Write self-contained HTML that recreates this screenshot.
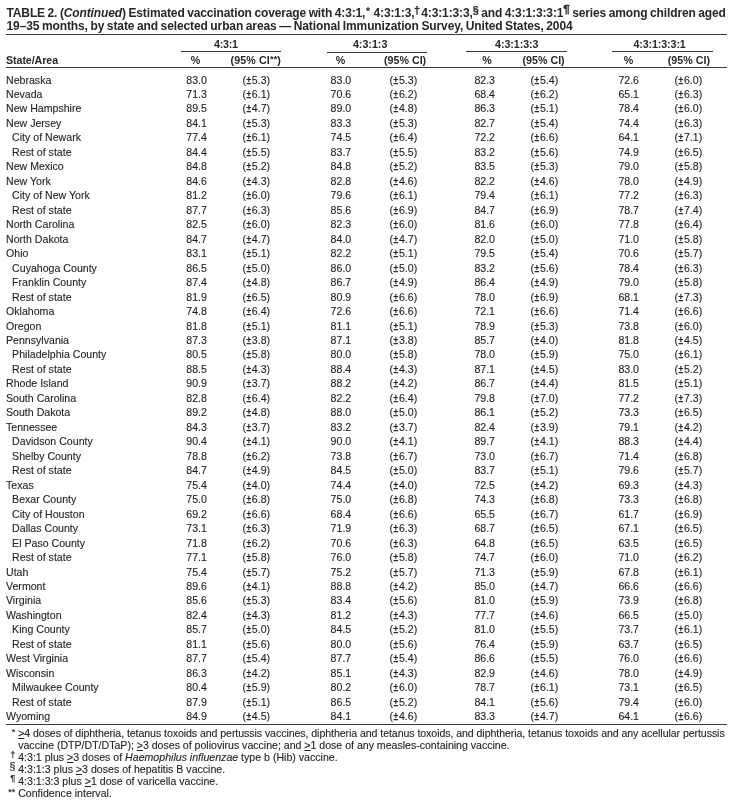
<!DOCTYPE html>
<html lang="en"><head><meta charset="utf-8"><title>TABLE 2. (Continued) Estimated vaccination coverage</title>
<style>
html,body{margin:0;padding:0;background:#fff;}
body{width:734px;height:810px;position:relative;overflow:hidden;font-family:"Liberation Sans",sans-serif;color:#231f20;font-size:10.6px;}
table,caption,thead,tbody,tr,th,td{display:block;margin:0;padding:0;border:0;font-weight:normal;text-align:left;}
table,caption,thead,tbody,.fn{position:absolute;left:0;top:0;width:734px;height:0;}
tr,.fn p{position:absolute;left:0;width:734px;height:20px;margin:0;}
.t{position:absolute;top:0;white-space:nowrap;line-height:20px;height:20px;-webkit-text-stroke:0.12px currentColor;}
thead .t{font-size:10.7px;}
.b{font-weight:bold;color:#2a2627;-webkit-text-stroke:0;}
.r{position:absolute;background:#3b3638;}
sup.s1{font-size:0.9em;line-height:0;vertical-align:0.24em;-webkit-text-stroke:0.25px currentColor;}
sup.s2{font-size:0.98em;vertical-align:0.36em;-webkit-text-stroke:0.3px currentColor;letter-spacing:-0.2px;}
u{text-decoration:underline;text-decoration-thickness:1px;text-underline-offset:1px;text-decoration-skip-ink:none;}
.m{width:30px;text-align:right;-webkit-text-stroke:0.15px currentColor;}
.as{font-size:0.86em;line-height:0;vertical-align:0.2em;}
.pm{display:inline-block;transform:scaleX(0.8);-webkit-text-stroke:0.42px currentColor;}
i{font-style:italic}
td.p0{left:186.3px}
td.c0{left:242.5px}
td.p1{left:330.6px}
td.c1{left:389.6px}
td.p2{left:474.4px}
td.c2{left:530.6px}
td.p3{left:618.4px}
td.c3{left:674.6px}
td.n{left:6px}
td.n.i{left:12.1px}
</style></head><body>
<table>
<caption>
<span class="t b" style="left:6.5px;top:3px;font-size:12px;letter-spacing:-0.13px;word-spacing:-0.6px">TABLE 2. (<i>Continued</i>) Estimated vaccination coverage with 4:3:1,<span class="as" style="margin:0 1.1px 0 0.6px">*</span> 4:3:1:3,<sup class="s1" style="margin:0 -1.2px 0 -0.5px">&dagger;</sup> 4:3:1:3:3,<sup class="s1">&sect;</sup> and 4:3:1:3:3:1<sup class="s1 s2">&para;</sup> series among children aged</span>
<span class="t b" style="left:6.5px;top:16px;font-size:12px;letter-spacing:-0.11px;word-spacing:-0.6px">19&ndash;35 months, by state and selected urban areas &mdash; National Immunization Survey, United States, 2004</span>
</caption>
<thead>
<tr style="top:34px">
<th></th>
<th colspan="2" class="t b" style="left:214px;letter-spacing:-0.27px">4:3:1</th>
<th colspan="2" class="t b" style="left:352.9px">4:3:1:3</th>
<th colspan="2" class="t b" style="left:495px;letter-spacing:-0.05px">4:3:1:3:3</th>
<th colspan="2" class="t b" style="left:633.5px;letter-spacing:-0.12px">4:3:1:3:3:1</th>
</tr>
<tr style="top:50px">
<th class="t b" style="left:6px;letter-spacing:-0.08px">State/Area</th>
<th class="t b" style="left:190.8px">%</th>
<th class="t b" style="left:230.5px;letter-spacing:0.12px">(95% CI<span class="as">*</span><span class="as">*</span>)</th>
<th class="t b" style="left:335.7px">%</th>
<th class="t b" style="left:384px">(95% CI)</th>
<th class="t b" style="left:482.2px">%</th>
<th class="t b" style="left:522.5px">(95% CI)</th>
<th class="t b" style="left:623.7px">%</th>
<th class="t b" style="left:667.8px">(95% CI)</th>
</tr>
</thead>
<tbody>
<tr style="top:70px"><td class="t n">Nebraska</td><td class="t p0">83.0</td><td class="t c0">(<span class="pm">&plusmn;</span>5.3)</td><td class="t p1">83.0</td><td class="t c1">(<span class="pm">&plusmn;</span>5.3)</td><td class="t p2">82.3</td><td class="t c2">(<span class="pm">&plusmn;</span>5.4)</td><td class="t p3">72.6</td><td class="t c3">(<span class="pm">&plusmn;</span>6.0)</td></tr>
<tr style="top:84px"><td class="t n">Nevada</td><td class="t p0">71.3</td><td class="t c0">(<span class="pm">&plusmn;</span>6.1)</td><td class="t p1">70.6</td><td class="t c1">(<span class="pm">&plusmn;</span>6.2)</td><td class="t p2">68.4</td><td class="t c2">(<span class="pm">&plusmn;</span>6.2)</td><td class="t p3">65.1</td><td class="t c3">(<span class="pm">&plusmn;</span>6.3)</td></tr>
<tr style="top:98px"><td class="t n">New Hampshire</td><td class="t p0">89.5</td><td class="t c0">(<span class="pm">&plusmn;</span>4.7)</td><td class="t p1">89.0</td><td class="t c1">(<span class="pm">&plusmn;</span>4.8)</td><td class="t p2">86.3</td><td class="t c2">(<span class="pm">&plusmn;</span>5.1)</td><td class="t p3">78.4</td><td class="t c3">(<span class="pm">&plusmn;</span>6.0)</td></tr>
<tr style="top:113px"><td class="t n">New Jersey</td><td class="t p0">84.1</td><td class="t c0">(<span class="pm">&plusmn;</span>5.3)</td><td class="t p1">83.3</td><td class="t c1">(<span class="pm">&plusmn;</span>5.3)</td><td class="t p2">82.7</td><td class="t c2">(<span class="pm">&plusmn;</span>5.4)</td><td class="t p3">74.4</td><td class="t c3">(<span class="pm">&plusmn;</span>6.3)</td></tr>
<tr style="top:127px"><td class="t n i">City of Newark</td><td class="t p0">77.4</td><td class="t c0">(<span class="pm">&plusmn;</span>6.1)</td><td class="t p1">74.5</td><td class="t c1">(<span class="pm">&plusmn;</span>6.4)</td><td class="t p2">72.2</td><td class="t c2">(<span class="pm">&plusmn;</span>6.6)</td><td class="t p3">64.1</td><td class="t c3">(<span class="pm">&plusmn;</span>7.1)</td></tr>
<tr style="top:142px"><td class="t n i">Rest of state</td><td class="t p0">84.4</td><td class="t c0">(<span class="pm">&plusmn;</span>5.5)</td><td class="t p1">83.7</td><td class="t c1">(<span class="pm">&plusmn;</span>5.5)</td><td class="t p2">83.2</td><td class="t c2">(<span class="pm">&plusmn;</span>5.6)</td><td class="t p3">74.9</td><td class="t c3">(<span class="pm">&plusmn;</span>6.5)</td></tr>
<tr style="top:156px"><td class="t n">New Mexico</td><td class="t p0">84.8</td><td class="t c0">(<span class="pm">&plusmn;</span>5.2)</td><td class="t p1">84.8</td><td class="t c1">(<span class="pm">&plusmn;</span>5.2)</td><td class="t p2">83.5</td><td class="t c2">(<span class="pm">&plusmn;</span>5.3)</td><td class="t p3">79.0</td><td class="t c3">(<span class="pm">&plusmn;</span>5.8)</td></tr>
<tr style="top:171px"><td class="t n">New York</td><td class="t p0">84.6</td><td class="t c0">(<span class="pm">&plusmn;</span>4.3)</td><td class="t p1">82.8</td><td class="t c1">(<span class="pm">&plusmn;</span>4.6)</td><td class="t p2">82.2</td><td class="t c2">(<span class="pm">&plusmn;</span>4.6)</td><td class="t p3">78.0</td><td class="t c3">(<span class="pm">&plusmn;</span>4.9)</td></tr>
<tr style="top:185px"><td class="t n i">City of New York</td><td class="t p0">81.2</td><td class="t c0">(<span class="pm">&plusmn;</span>6.0)</td><td class="t p1">79.6</td><td class="t c1">(<span class="pm">&plusmn;</span>6.1)</td><td class="t p2">79.4</td><td class="t c2">(<span class="pm">&plusmn;</span>6.1)</td><td class="t p3">77.2</td><td class="t c3">(<span class="pm">&plusmn;</span>6.3)</td></tr>
<tr style="top:200px"><td class="t n i">Rest of state</td><td class="t p0">87.7</td><td class="t c0">(<span class="pm">&plusmn;</span>6.3)</td><td class="t p1">85.6</td><td class="t c1">(<span class="pm">&plusmn;</span>6.9)</td><td class="t p2">84.7</td><td class="t c2">(<span class="pm">&plusmn;</span>6.9)</td><td class="t p3">78.7</td><td class="t c3">(<span class="pm">&plusmn;</span>7.4)</td></tr>
<tr style="top:214px"><td class="t n">North Carolina</td><td class="t p0">82.5</td><td class="t c0">(<span class="pm">&plusmn;</span>6.0)</td><td class="t p1">82.3</td><td class="t c1">(<span class="pm">&plusmn;</span>6.0)</td><td class="t p2">81.6</td><td class="t c2">(<span class="pm">&plusmn;</span>6.0)</td><td class="t p3">77.8</td><td class="t c3">(<span class="pm">&plusmn;</span>6.4)</td></tr>
<tr style="top:229px"><td class="t n">North Dakota</td><td class="t p0">84.7</td><td class="t c0">(<span class="pm">&plusmn;</span>4.7)</td><td class="t p1">84.0</td><td class="t c1">(<span class="pm">&plusmn;</span>4.7)</td><td class="t p2">82.0</td><td class="t c2">(<span class="pm">&plusmn;</span>5.0)</td><td class="t p3">71.0</td><td class="t c3">(<span class="pm">&plusmn;</span>5.8)</td></tr>
<tr style="top:243px"><td class="t n">Ohio</td><td class="t p0">83.1</td><td class="t c0">(<span class="pm">&plusmn;</span>5.1)</td><td class="t p1">82.2</td><td class="t c1">(<span class="pm">&plusmn;</span>5.1)</td><td class="t p2">79.5</td><td class="t c2">(<span class="pm">&plusmn;</span>5.4)</td><td class="t p3">70.6</td><td class="t c3">(<span class="pm">&plusmn;</span>5.7)</td></tr>
<tr style="top:258px"><td class="t n i">Cuyahoga County</td><td class="t p0">86.5</td><td class="t c0">(<span class="pm">&plusmn;</span>5.0)</td><td class="t p1">86.0</td><td class="t c1">(<span class="pm">&plusmn;</span>5.0)</td><td class="t p2">83.2</td><td class="t c2">(<span class="pm">&plusmn;</span>5.6)</td><td class="t p3">78.4</td><td class="t c3">(<span class="pm">&plusmn;</span>6.3)</td></tr>
<tr style="top:272px"><td class="t n i">Franklin County</td><td class="t p0">87.4</td><td class="t c0">(<span class="pm">&plusmn;</span>4.8)</td><td class="t p1">86.7</td><td class="t c1">(<span class="pm">&plusmn;</span>4.9)</td><td class="t p2">86.4</td><td class="t c2">(<span class="pm">&plusmn;</span>4.9)</td><td class="t p3">79.0</td><td class="t c3">(<span class="pm">&plusmn;</span>5.8)</td></tr>
<tr style="top:287px"><td class="t n i">Rest of state</td><td class="t p0">81.9</td><td class="t c0">(<span class="pm">&plusmn;</span>6.5)</td><td class="t p1">80.9</td><td class="t c1">(<span class="pm">&plusmn;</span>6.6)</td><td class="t p2">78.0</td><td class="t c2">(<span class="pm">&plusmn;</span>6.9)</td><td class="t p3">68.1</td><td class="t c3">(<span class="pm">&plusmn;</span>7.3)</td></tr>
<tr style="top:301px"><td class="t n">Oklahoma</td><td class="t p0">74.8</td><td class="t c0">(<span class="pm">&plusmn;</span>6.4)</td><td class="t p1">72.6</td><td class="t c1">(<span class="pm">&plusmn;</span>6.6)</td><td class="t p2">72.1</td><td class="t c2">(<span class="pm">&plusmn;</span>6.6)</td><td class="t p3">71.4</td><td class="t c3">(<span class="pm">&plusmn;</span>6.6)</td></tr>
<tr style="top:316px"><td class="t n">Oregon</td><td class="t p0">81.8</td><td class="t c0">(<span class="pm">&plusmn;</span>5.1)</td><td class="t p1">81.1</td><td class="t c1">(<span class="pm">&plusmn;</span>5.1)</td><td class="t p2">78.9</td><td class="t c2">(<span class="pm">&plusmn;</span>5.3)</td><td class="t p3">73.8</td><td class="t c3">(<span class="pm">&plusmn;</span>6.0)</td></tr>
<tr style="top:330px"><td class="t n">Pennsylvania</td><td class="t p0">87.3</td><td class="t c0">(<span class="pm">&plusmn;</span>3.8)</td><td class="t p1">87.1</td><td class="t c1">(<span class="pm">&plusmn;</span>3.8)</td><td class="t p2">85.7</td><td class="t c2">(<span class="pm">&plusmn;</span>4.0)</td><td class="t p3">81.8</td><td class="t c3">(<span class="pm">&plusmn;</span>4.5)</td></tr>
<tr style="top:344px"><td class="t n i">Philadelphia County</td><td class="t p0">80.5</td><td class="t c0">(<span class="pm">&plusmn;</span>5.8)</td><td class="t p1">80.0</td><td class="t c1">(<span class="pm">&plusmn;</span>5.8)</td><td class="t p2">78.0</td><td class="t c2">(<span class="pm">&plusmn;</span>5.9)</td><td class="t p3">75.0</td><td class="t c3">(<span class="pm">&plusmn;</span>6.1)</td></tr>
<tr style="top:359px"><td class="t n i">Rest of state</td><td class="t p0">88.5</td><td class="t c0">(<span class="pm">&plusmn;</span>4.3)</td><td class="t p1">88.4</td><td class="t c1">(<span class="pm">&plusmn;</span>4.3)</td><td class="t p2">87.1</td><td class="t c2">(<span class="pm">&plusmn;</span>4.5)</td><td class="t p3">83.0</td><td class="t c3">(<span class="pm">&plusmn;</span>5.2)</td></tr>
<tr style="top:373px"><td class="t n">Rhode Island</td><td class="t p0">90.9</td><td class="t c0">(<span class="pm">&plusmn;</span>3.7)</td><td class="t p1">88.2</td><td class="t c1">(<span class="pm">&plusmn;</span>4.2)</td><td class="t p2">86.7</td><td class="t c2">(<span class="pm">&plusmn;</span>4.4)</td><td class="t p3">81.5</td><td class="t c3">(<span class="pm">&plusmn;</span>5.1)</td></tr>
<tr style="top:388px"><td class="t n">South Carolina</td><td class="t p0">82.8</td><td class="t c0">(<span class="pm">&plusmn;</span>6.4)</td><td class="t p1">82.2</td><td class="t c1">(<span class="pm">&plusmn;</span>6.4)</td><td class="t p2">79.8</td><td class="t c2">(<span class="pm">&plusmn;</span>7.0)</td><td class="t p3">77.2</td><td class="t c3">(<span class="pm">&plusmn;</span>7.3)</td></tr>
<tr style="top:402px"><td class="t n">South Dakota</td><td class="t p0">89.2</td><td class="t c0">(<span class="pm">&plusmn;</span>4.8)</td><td class="t p1">88.0</td><td class="t c1">(<span class="pm">&plusmn;</span>5.0)</td><td class="t p2">86.1</td><td class="t c2">(<span class="pm">&plusmn;</span>5.2)</td><td class="t p3">73.3</td><td class="t c3">(<span class="pm">&plusmn;</span>6.5)</td></tr>
<tr style="top:417px"><td class="t n">Tennessee</td><td class="t p0">84.3</td><td class="t c0">(<span class="pm">&plusmn;</span>3.7)</td><td class="t p1">83.2</td><td class="t c1">(<span class="pm">&plusmn;</span>3.7)</td><td class="t p2">82.4</td><td class="t c2">(<span class="pm">&plusmn;</span>3.9)</td><td class="t p3">79.1</td><td class="t c3">(<span class="pm">&plusmn;</span>4.2)</td></tr>
<tr style="top:431px"><td class="t n i">Davidson County</td><td class="t p0">90.4</td><td class="t c0">(<span class="pm">&plusmn;</span>4.1)</td><td class="t p1">90.0</td><td class="t c1">(<span class="pm">&plusmn;</span>4.1)</td><td class="t p2">89.7</td><td class="t c2">(<span class="pm">&plusmn;</span>4.1)</td><td class="t p3">88.3</td><td class="t c3">(<span class="pm">&plusmn;</span>4.4)</td></tr>
<tr style="top:446px"><td class="t n i">Shelby County</td><td class="t p0">78.8</td><td class="t c0">(<span class="pm">&plusmn;</span>6.2)</td><td class="t p1">73.8</td><td class="t c1">(<span class="pm">&plusmn;</span>6.7)</td><td class="t p2">73.0</td><td class="t c2">(<span class="pm">&plusmn;</span>6.7)</td><td class="t p3">71.4</td><td class="t c3">(<span class="pm">&plusmn;</span>6.8)</td></tr>
<tr style="top:460px"><td class="t n i">Rest of state</td><td class="t p0">84.7</td><td class="t c0">(<span class="pm">&plusmn;</span>4.9)</td><td class="t p1">84.5</td><td class="t c1">(<span class="pm">&plusmn;</span>5.0)</td><td class="t p2">83.7</td><td class="t c2">(<span class="pm">&plusmn;</span>5.1)</td><td class="t p3">79.6</td><td class="t c3">(<span class="pm">&plusmn;</span>5.7)</td></tr>
<tr style="top:475px"><td class="t n">Texas</td><td class="t p0">75.4</td><td class="t c0">(<span class="pm">&plusmn;</span>4.0)</td><td class="t p1">74.4</td><td class="t c1">(<span class="pm">&plusmn;</span>4.0)</td><td class="t p2">72.5</td><td class="t c2">(<span class="pm">&plusmn;</span>4.2)</td><td class="t p3">69.3</td><td class="t c3">(<span class="pm">&plusmn;</span>4.3)</td></tr>
<tr style="top:489px"><td class="t n i">Bexar County</td><td class="t p0">75.0</td><td class="t c0">(<span class="pm">&plusmn;</span>6.8)</td><td class="t p1">75.0</td><td class="t c1">(<span class="pm">&plusmn;</span>6.8)</td><td class="t p2">74.3</td><td class="t c2">(<span class="pm">&plusmn;</span>6.8)</td><td class="t p3">73.3</td><td class="t c3">(<span class="pm">&plusmn;</span>6.8)</td></tr>
<tr style="top:504px"><td class="t n i">City of Houston</td><td class="t p0">69.2</td><td class="t c0">(<span class="pm">&plusmn;</span>6.6)</td><td class="t p1">68.4</td><td class="t c1">(<span class="pm">&plusmn;</span>6.6)</td><td class="t p2">65.5</td><td class="t c2">(<span class="pm">&plusmn;</span>6.7)</td><td class="t p3">61.7</td><td class="t c3">(<span class="pm">&plusmn;</span>6.9)</td></tr>
<tr style="top:518px"><td class="t n i">Dallas County</td><td class="t p0">73.1</td><td class="t c0">(<span class="pm">&plusmn;</span>6.3)</td><td class="t p1">71.9</td><td class="t c1">(<span class="pm">&plusmn;</span>6.3)</td><td class="t p2">68.7</td><td class="t c2">(<span class="pm">&plusmn;</span>6.5)</td><td class="t p3">67.1</td><td class="t c3">(<span class="pm">&plusmn;</span>6.5)</td></tr>
<tr style="top:533px"><td class="t n i">El Paso County</td><td class="t p0">71.8</td><td class="t c0">(<span class="pm">&plusmn;</span>6.2)</td><td class="t p1">70.6</td><td class="t c1">(<span class="pm">&plusmn;</span>6.3)</td><td class="t p2">64.8</td><td class="t c2">(<span class="pm">&plusmn;</span>6.5)</td><td class="t p3">63.5</td><td class="t c3">(<span class="pm">&plusmn;</span>6.5)</td></tr>
<tr style="top:547px"><td class="t n i">Rest of state</td><td class="t p0">77.1</td><td class="t c0">(<span class="pm">&plusmn;</span>5.8)</td><td class="t p1">76.0</td><td class="t c1">(<span class="pm">&plusmn;</span>5.8)</td><td class="t p2">74.7</td><td class="t c2">(<span class="pm">&plusmn;</span>6.0)</td><td class="t p3">71.0</td><td class="t c3">(<span class="pm">&plusmn;</span>6.2)</td></tr>
<tr style="top:562px"><td class="t n">Utah</td><td class="t p0">75.4</td><td class="t c0">(<span class="pm">&plusmn;</span>5.7)</td><td class="t p1">75.2</td><td class="t c1">(<span class="pm">&plusmn;</span>5.7)</td><td class="t p2">71.3</td><td class="t c2">(<span class="pm">&plusmn;</span>5.9)</td><td class="t p3">67.8</td><td class="t c3">(<span class="pm">&plusmn;</span>6.1)</td></tr>
<tr style="top:576px"><td class="t n">Vermont</td><td class="t p0">89.6</td><td class="t c0">(<span class="pm">&plusmn;</span>4.1)</td><td class="t p1">88.8</td><td class="t c1">(<span class="pm">&plusmn;</span>4.2)</td><td class="t p2">85.0</td><td class="t c2">(<span class="pm">&plusmn;</span>4.7)</td><td class="t p3">66.6</td><td class="t c3">(<span class="pm">&plusmn;</span>6.6)</td></tr>
<tr style="top:590px"><td class="t n">Virginia</td><td class="t p0">85.6</td><td class="t c0">(<span class="pm">&plusmn;</span>5.3)</td><td class="t p1">83.4</td><td class="t c1">(<span class="pm">&plusmn;</span>5.6)</td><td class="t p2">81.0</td><td class="t c2">(<span class="pm">&plusmn;</span>5.9)</td><td class="t p3">73.9</td><td class="t c3">(<span class="pm">&plusmn;</span>6.8)</td></tr>
<tr style="top:605px"><td class="t n">Washington</td><td class="t p0">82.4</td><td class="t c0">(<span class="pm">&plusmn;</span>4.3)</td><td class="t p1">81.2</td><td class="t c1">(<span class="pm">&plusmn;</span>4.3)</td><td class="t p2">77.7</td><td class="t c2">(<span class="pm">&plusmn;</span>4.6)</td><td class="t p3">66.5</td><td class="t c3">(<span class="pm">&plusmn;</span>5.0)</td></tr>
<tr style="top:619px"><td class="t n i">King County</td><td class="t p0">85.7</td><td class="t c0">(<span class="pm">&plusmn;</span>5.0)</td><td class="t p1">84.5</td><td class="t c1">(<span class="pm">&plusmn;</span>5.2)</td><td class="t p2">81.0</td><td class="t c2">(<span class="pm">&plusmn;</span>5.5)</td><td class="t p3">73.7</td><td class="t c3">(<span class="pm">&plusmn;</span>6.1)</td></tr>
<tr style="top:634px"><td class="t n i">Rest of state</td><td class="t p0">81.1</td><td class="t c0">(<span class="pm">&plusmn;</span>5.6)</td><td class="t p1">80.0</td><td class="t c1">(<span class="pm">&plusmn;</span>5.6)</td><td class="t p2">76.4</td><td class="t c2">(<span class="pm">&plusmn;</span>5.9)</td><td class="t p3">63.7</td><td class="t c3">(<span class="pm">&plusmn;</span>6.5)</td></tr>
<tr style="top:648px"><td class="t n">West Virginia</td><td class="t p0">87.7</td><td class="t c0">(<span class="pm">&plusmn;</span>5.4)</td><td class="t p1">87.7</td><td class="t c1">(<span class="pm">&plusmn;</span>5.4)</td><td class="t p2">86.6</td><td class="t c2">(<span class="pm">&plusmn;</span>5.5)</td><td class="t p3">76.0</td><td class="t c3">(<span class="pm">&plusmn;</span>6.6)</td></tr>
<tr style="top:663px"><td class="t n">Wisconsin</td><td class="t p0">86.3</td><td class="t c0">(<span class="pm">&plusmn;</span>4.2)</td><td class="t p1">85.1</td><td class="t c1">(<span class="pm">&plusmn;</span>4.3)</td><td class="t p2">82.9</td><td class="t c2">(<span class="pm">&plusmn;</span>4.6)</td><td class="t p3">78.0</td><td class="t c3">(<span class="pm">&plusmn;</span>4.9)</td></tr>
<tr style="top:677px"><td class="t n i">Milwaukee County</td><td class="t p0">80.4</td><td class="t c0">(<span class="pm">&plusmn;</span>5.9)</td><td class="t p1">80.2</td><td class="t c1">(<span class="pm">&plusmn;</span>6.0)</td><td class="t p2">78.7</td><td class="t c2">(<span class="pm">&plusmn;</span>6.1)</td><td class="t p3">73.1</td><td class="t c3">(<span class="pm">&plusmn;</span>6.5)</td></tr>
<tr style="top:692px"><td class="t n i">Rest of state</td><td class="t p0">87.9</td><td class="t c0">(<span class="pm">&plusmn;</span>5.1)</td><td class="t p1">86.5</td><td class="t c1">(<span class="pm">&plusmn;</span>5.2)</td><td class="t p2">84.1</td><td class="t c2">(<span class="pm">&plusmn;</span>5.6)</td><td class="t p3">79.4</td><td class="t c3">(<span class="pm">&plusmn;</span>6.0)</td></tr>
<tr style="top:706px"><td class="t n">Wyoming</td><td class="t p0">84.9</td><td class="t c0">(<span class="pm">&plusmn;</span>4.5)</td><td class="t p1">84.1</td><td class="t c1">(<span class="pm">&plusmn;</span>4.6)</td><td class="t p2">83.3</td><td class="t c2">(<span class="pm">&plusmn;</span>4.7)</td><td class="t p3">64.1</td><td class="t c3">(<span class="pm">&plusmn;</span>6.6)</td></tr>
</tbody>
</table>
<div class="r" style="left:6px;top:34px;width:721px;height:1px"></div>
<div class="r" style="left:6px;top:67px;width:721px;height:1px"></div>
<div class="r" style="left:6px;top:724px;width:721px;height:1px"></div>
<div class="r" style="left:181px;top:51px;width:99.6px;height:1px"></div>
<div class="r" style="left:327.1px;top:52px;width:99.8px;height:1px"></div>
<div class="r" style="left:466.1px;top:51px;width:100.8px;height:1px"></div>
<div class="r" style="left:612.2px;top:51px;width:100.8px;height:1px"></div>
<div class="fn">
<p style="top:723px">
<span class="t m" style="left:-14.7px;top:0px;font-size:10.6px"><span class="as">*</span></span>
<span class="t" style="left:18.2px;letter-spacing:-0.072px"><u>&gt;</u>4 doses of diphtheria, tetanus toxoids and pertussis vaccines, diphtheria and tetanus toxoids, and diphtheria, tetanus toxoids and any acellular pertussis</span>
</p>
<p style="top:735px">
<span class="t" style="left:18.2px;letter-spacing:-0.015px">vaccine (DTP/DT/DTaP); <u>&gt;</u>3 doses of poliovirus vaccine; and <u>&gt;</u>1 dose of any measles-containing vaccine.</span>
</p>
<p style="top:747px">
<span class="t m" style="left:-14.7px;top:-2px;font-size:9.2px">&dagger;</span>
<span class="t" style="left:18.2px">4:3:1 plus <u>&gt;</u>3 doses of <i>Haemophilus influenzae</i> type b (Hib) vaccine.</span>
</p>
<p style="top:759px">
<span class="t m" style="left:-14.7px;top:-3px;font-size:10.6px">&sect;</span>
<span class="t" style="left:18.2px">4:3:1:3 plus <u>&gt;</u>3 doses of hepatitis B vaccine.</span>
</p>
<p style="top:771px">
<span class="t m" style="left:-14.7px;top:-3px;font-size:9.6px">&para;</span>
<span class="t" style="left:18.2px">4:3:1:3:3 plus <u>&gt;</u>1 dose of varicella vaccine.</span>
</p>
<p style="top:783px">
<span class="t m" style="left:-14.7px;top:0px;font-size:10.6px"><span class="as">*</span><span class="as">*</span></span>
<span class="t" style="left:18.2px">Confidence interval.</span>
</p>
</div>
</body></html>
